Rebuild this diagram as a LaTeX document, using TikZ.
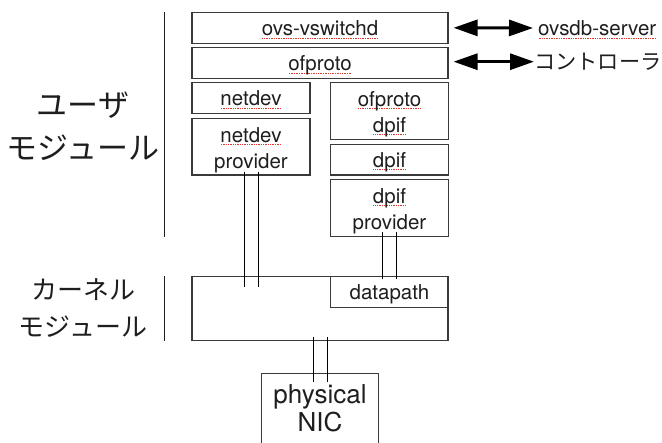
\documentclass[tikz,border=0pt]{standalone}
\usepackage{fontspec}
\setmainfont{TeX Gyre Heros}
\newfontfamily\jp{Noto Sans CJK JP}
\usetikzlibrary{arrows.meta,calc}
\definecolor{ink}{HTML}{1E1E1E}
\definecolor{boxline}{HTML}{3A3A3A}
\definecolor{spell}{HTML}{E0392B}
% dotted red underline under identifiers
\newsavebox\sqbox
\newcommand\sq[1]{\sbox\sqbox{#1}\leavevmode\smash{\rlap{\color{spell}%
  \xleaders\hbox to 1.7pt{\hss\rule[-2.6pt]{0.8pt}{0.8pt}\hss}\hskip\wd\sqbox}}\usebox\sqbox}
% struts fixing the first-line height and last-line depth of two-line boxes
\newcommand\hitop{\rule{0pt}{23pt}}
\newcommand\lobot{\rule[-6pt]{0pt}{6pt}}

\begin{document}
\begin{tikzpicture}[x=1pt,y=1pt,
  mod/.style={draw=boxline, line width=1.1pt, inner sep=0pt, text=ink,
    font=\fontsize{20.5}{26}\selectfont, align=center},
  one/.style={mod, text height=16pt, text depth=0pt},
  two/.style={mod},
  link/.style={draw=black, line width=0.9pt},
  side/.style={draw=ink, line width=1pt},
  api/.style={line width=3pt,
    {Triangle[length=24pt,width=16pt]}-{Triangle[length=24pt,width=16pt]}},
  peer/.style={inner sep=0pt, anchor=west, text=ink},
]
\useasboundingbox (0,0) rectangle (662,-443);

% user-space modules
\node[one, minimum width=256pt, minimum height=31pt]   (vsw)    at (320,-27.8)   {\sq{ovs-vswitchd}};
\node[one, minimum width=256pt, minimum height=30.6pt] (ofp)    at (320,-63)     {\sq{ofproto}};
\node[one, minimum width=118pt, minimum height=30.6pt] (netdev) at (251,-98)     {\sq{netdev}};
\node[two, minimum width=118pt, minimum height=56.7pt] (ndp)    at (251,-146.7)  {\hitop\sq{netdev}\\provider\lobot};
\node[two, minimum width=117.6pt, minimum height=56.6pt] (ofdpif) at (389.5,-111) {\hitop\sq{ofproto}\\\sq{dpif}\lobot};
\node[one, minimum width=117.6pt, minimum height=30.7pt] (dpif)   at (389.5,-159.7) {\sq{dpif}};
\node[two, minimum width=117.6pt, minimum height=57.4pt] (dpifp)  at (389.5,-208)   {\hitop\sq{dpif}\\provider\lobot};

% kernel module
\node[mod, minimum width=256pt, minimum height=64pt] (kernel) at (320,-308.7) {};
\node[one, minimum width=117.6pt, minimum height=30.6pt] (datapath) at (389.5,-292) {datapath};

% physical NIC, open at the bottom
\node[two, draw=none, font=\fontsize{26}{27.7}\selectfont, minimum width=116.6pt, minimum height=69.4pt]
  (nic) at (320,-408.7) {\hitop physical\\NIC\lobot};
\draw[draw=boxline, line width=1.1pt] ([yshift=-12pt]nic.south west) |- (nic.north east) -- ([yshift=-12pt]nic.south east);

% paired links between layers
\draw[link] ([xshift=-7pt,yshift=4pt]ndp.south) -- ($(ndp.south |- kernel.north)+(-7pt,-10.6pt)$);
\draw[link] ([xshift=7pt,yshift=4pt]ndp.south)  -- ($(ndp.south |- kernel.north)+(7pt,-10.6pt)$);
\draw[link] ([xshift=-7.2pt,yshift=5pt]dpifp.south) -- ($(dpifp.south |- datapath.north)+(-7.2pt,-3.3pt)$);
\draw[link] ([xshift=7.2pt,yshift=5pt]dpifp.south)  -- ($(dpifp.south |- datapath.north)+(7.2pt,-3.3pt)$);
\draw[link] ([xshift=-7pt,yshift=4.7pt]kernel.south) -- ($(kernel.south |- nic.north)+(-7pt,-8.7pt)$);
\draw[link] ([xshift=7pt,yshift=4.7pt]kernel.south)  -- ($(kernel.south |- nic.north)+(7pt,-8.7pt)$);

% layer labels and dividers
\node[font=\jp\fontsize{31}{43}\selectfont, align=center, text=ink] (userlbl) at (83,-126.5) {ユーザ\\モジュール};
\node[font=\jp\fontsize{26}{37}\selectfont, align=center, text=ink] (kernlbl) at (83,-308.5) {カーネル\\モジュール};
\draw[side] ($(vsw.north west)+(-26.5pt,0)$) -- ($(dpifp.south -| vsw.west)+(-26.5pt,0)$);
\draw[side] ($(kernel.north west)+(-26.5pt,0)$) -- ($(kernel.south west)+(-26.5pt,0)$);

% external peers
\node[peer, font=\fontsize{20.5}{26}\selectfont, text height=16pt, text depth=0pt] (ovsdb) at (538,-28) {\sq{ovsdb-server}};
\node[peer, font=\jp\fontsize{21.2}{26}\selectfont] (ctrl) at (534,-61.7) {コントローラ};
\draw[api] ([xshift=5pt]vsw.east) -- ([xshift=-5pt]ovsdb.west);
\draw[api] ($(ofp.east |- ctrl.west)+(5pt,0)$) -- (ctrl.west);
\end{tikzpicture}
\end{document}
